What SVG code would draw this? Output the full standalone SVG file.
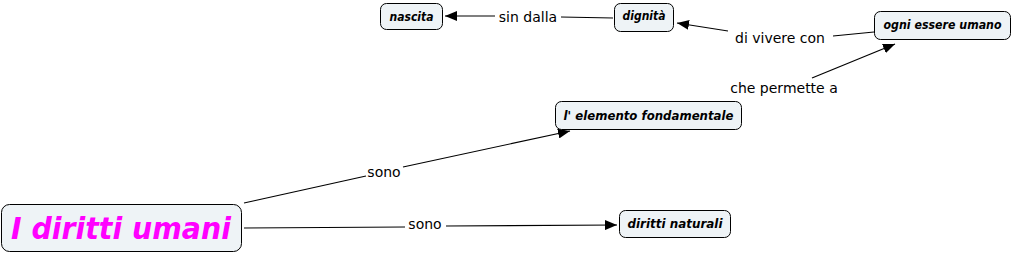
<svg xmlns="http://www.w3.org/2000/svg" width="1016" height="254" viewBox="0 0 1016 254">
<style>
.n rect{fill:#eef3f6;stroke:#000;stroke-width:1}
.n text{font-family:"DejaVu Sans",sans-serif;font-weight:bold;font-style:italic;font-size:12.5px;text-anchor:middle;fill:#000}
.l{font-family:"DejaVu Sans",sans-serif;font-size:14px;text-anchor:middle;fill:#000}
#c line{stroke:#000;stroke-width:1.2}
</style>
<defs>
<marker id="a" viewBox="0 0 12 10" refX="12" refY="5" markerWidth="12" markerHeight="10" markerUnits="userSpaceOnUse" orient="auto">
<path d="M0,0 L12,5 L0,10 z" fill="#000"/>
</marker>
</defs>
<g id="c">
<line x1="244" y1="203" x2="366" y2="176"/>
<line x1="403" y1="167" x2="570" y2="131" marker-end="url(#a)"/>
<line x1="244" y1="228" x2="405" y2="227"/>
<line x1="446" y1="226" x2="617" y2="225" marker-end="url(#a)"/>
<line x1="613" y1="18" x2="561" y2="17"/>
<line x1="495" y1="16" x2="445" y2="16" marker-end="url(#a)"/>
<line x1="874" y1="32" x2="833" y2="36"/>
<line x1="728" y1="31" x2="677" y2="23" marker-end="url(#a)"/>
<line x1="812" y1="78" x2="895" y2="44" marker-end="url(#a)"/>
<text class="l" x="384" y="177">sono</text>
<text class="l" x="425" y="229">sono</text>
<text class="l" x="528" y="22">sin dalla</text>
<text class="l" x="780" y="43">di vivere con</text>
<text class="l" x="784" y="93">che permette a</text>
</g>
<g id="n1" class="n"><rect x="1.5" y="204.5" width="240" height="47" rx="8"/><text x="121" y="239" style="font-size:31px;fill:#ff00ff" textLength="220" lengthAdjust="spacingAndGlyphs">I diritti umani</text></g>
<g id="n2" class="n"><rect x="380.5" y="3.5" width="62" height="26" rx="6"/><text x="411.5" y="21" textLength="44" lengthAdjust="spacingAndGlyphs">nascita</text></g>
<g id="n3" class="n"><rect x="614.5" y="3.5" width="59" height="28" rx="6"/><text x="644" y="20" textLength="43" lengthAdjust="spacingAndGlyphs">dignità</text></g>
<g id="n4" class="n"><rect x="874.5" y="11.5" width="136" height="28" rx="6"/><text x="942.5" y="29" textLength="118" lengthAdjust="spacingAndGlyphs">ogni essere umano</text></g>
<g id="n5" class="n"><rect x="555.5" y="101.5" width="186" height="28" rx="6"/><text x="648.5" y="120" textLength="170" lengthAdjust="spacingAndGlyphs">l' elemento fondamentale</text></g>
<g id="n6" class="n"><rect x="619.5" y="210.5" width="111" height="27" rx="6"/><text x="675" y="228" textLength="95" lengthAdjust="spacingAndGlyphs">diritti naturali</text></g>
</svg>
